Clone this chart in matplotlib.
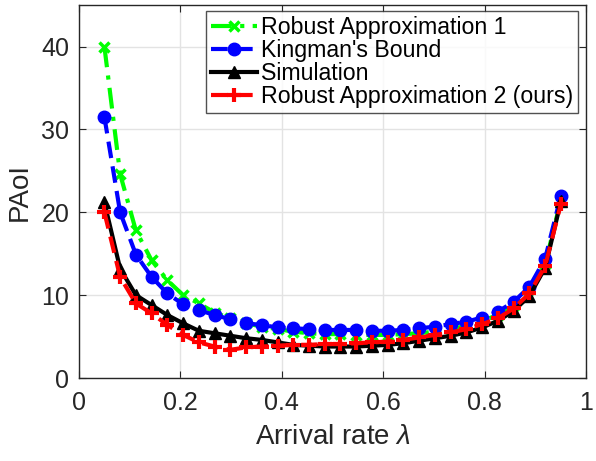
import numpy as np
import matplotlib
matplotlib.use("Agg")
import matplotlib.pyplot as plt

plt.rcParams['font.family'] = ['Liberation Sans', 'DejaVu Sans']
plt.rcParams['mathtext.fontset'] = 'custom'
plt.rcParams['mathtext.it'] = 'Liberation Sans:italic'

# Arrival rates (30 evenly spaced points)
arrival_rate = np.linspace(0.05, 0.95, 30)

robust_approx_1 = [40.0, 24.6, 17.8, 14.2, 11.8, 10.0, 9.0, 7.9, 7.2, 6.6,
                   6.2, 5.9, 5.6, 5.4, 5.3, 5.3, 5.2, 5.2, 5.2, 5.3,
                   5.4, 5.6, 5.9, 6.3, 6.9, 7.6, 8.8, 10.7, 13.7, 21.5]
kingman_bound = [31.5, 20.0, 14.9, 12.2, 10.2, 8.9, 8.2, 7.6, 7.1, 6.6,
                 6.4, 6.1, 6.0, 5.9, 5.8, 5.8, 5.8, 5.7, 5.7, 5.8,
                 6.0, 6.2, 6.5, 6.8, 7.3, 8.0, 9.2, 11.0, 14.4, 22.0]
simulation = [21.2, 13.2, 10.0, 8.8, 7.6, 6.6, 5.7, 5.4, 5.1, 4.8,
              4.6, 4.3, 4.0, 3.9, 3.8, 3.8, 3.8, 3.9, 4.0, 4.2,
              4.5, 4.8, 5.1, 5.5, 6.1, 6.9, 8.1, 9.9, 13.3, 21.3]
robust_approx_2 = [20.0, 12.2, 9.0, 7.8, 6.4, 5.2, 4.3, 3.8, 3.4, 3.7,
                   3.8, 3.9, 4.0, 4.0, 4.1, 4.1, 4.2, 4.3, 4.4, 4.6,
                   4.9, 5.2, 5.5, 5.9, 6.5, 7.2, 8.4, 10.2, 13.5, 21.0]

labels = ["Robust Approximation 1", "Kingman's Bound", "Simulation",
          "Robust Approximation 2 (ours)"]

fig = plt.figure(figsize=(5.96, 4.61), dpi=100)
ax = fig.add_axes([0.1326, 0.180, 0.851, 0.809])

lw = 3.0
ax.plot(arrival_rate, robust_approx_1, color='#00ff00', linestyle='-.', lw=lw,
        marker='x', ms=7, mew=2.5, label=labels[0], dashes=(5, 2, 1, 2))
ax.plot(arrival_rate, kingman_bound, color='#0000ff', linestyle='--', lw=lw,
        marker='o', ms=9, label=labels[1], dashes=(4, 2))
ax.plot(arrival_rate, simulation, color='black', linestyle='-', lw=lw,
        marker='^', ms=9, label=labels[2])
ax.plot(arrival_rate, robust_approx_2, color='#ff0000', linestyle='--', lw=lw,
        marker='+', ms=10, mew=3, label=labels[3], dashes=(4, 2))

ax.set_xlim(0, 1)
ax.set_ylim(0, 45)
ax.set_xticks([0, 0.2, 0.4, 0.6, 0.8, 1])
ax.set_xticklabels(['0', '0.2', '0.4', '0.6', '0.8', '1'])
ax.set_yticks([0, 10, 20, 30, 40])
ax.grid(True, color='#e3e3e3', lw=1.0)
ax.set_axisbelow(True)
for s in ax.spines.values():
    s.set_color('#262626')
    s.set_linewidth(1.0)
ax.tick_params(direction='in', top=True, right=True, labelsize=18,
               colors='#262626', length=5)
ax.tick_params(axis='x', pad=9)
ax.tick_params(axis='y', pad=7)

ax.set_xlabel(r'Arrival rate $\lambda$', fontsize=20, color='#262626', labelpad=7)
ax.set_ylabel('PAoI', fontsize=20, color='#262626', labelpad=6)

leg = ax.legend(loc='upper right', bbox_to_anchor=(0.983, 0.983), fontsize=16.7,
                frameon=True, fancybox=False, edgecolor='#262626',
                handlelength=2.0, handletextpad=0.15, labelspacing=0.0,
                borderpad=0.2, borderaxespad=0.0)
leg.get_frame().set_linewidth(1.0)

fig.savefig('out.png', dpi=100)
